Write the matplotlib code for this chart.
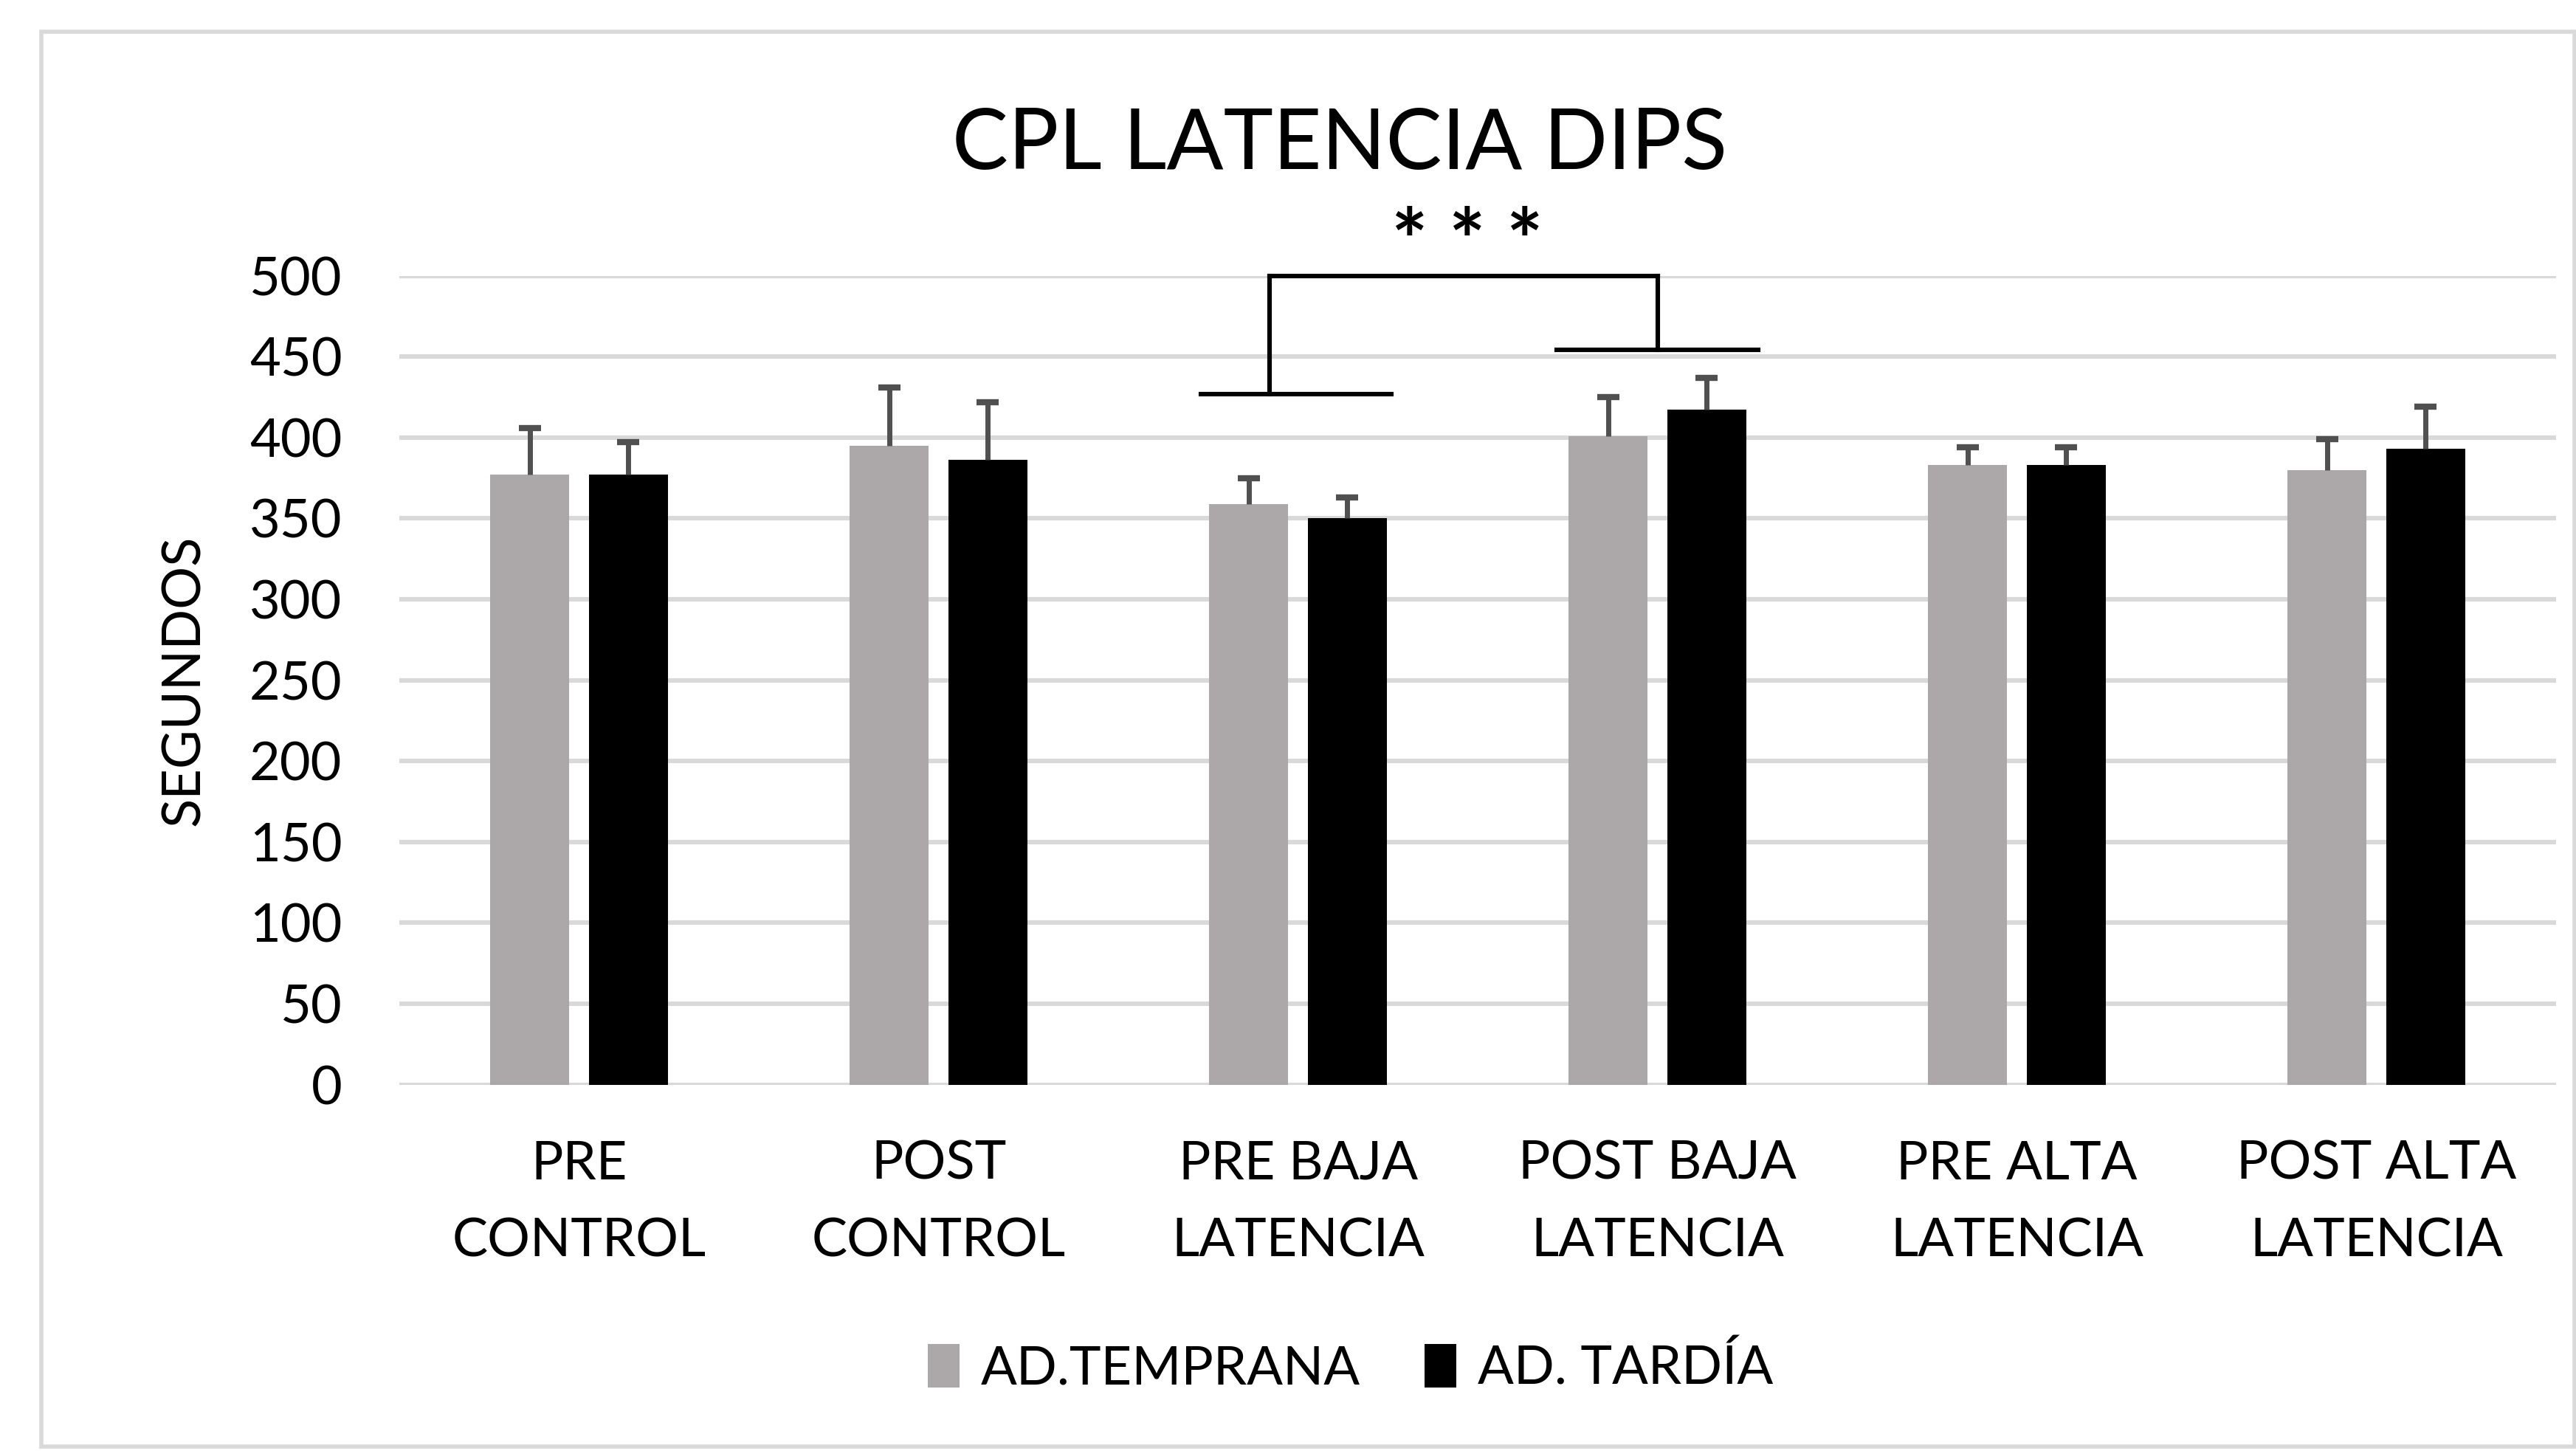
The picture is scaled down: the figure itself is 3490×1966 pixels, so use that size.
import matplotlib
matplotlib.use("Agg")
import matplotlib.pyplot as plt
import numpy as np
from matplotlib.patches import Rectangle

# data
categories = ["PRE\nCONTROL", "POST\nCONTROL", "PRE BAJA\nLATENCIA",
              "POST BAJA\nLATENCIA", "PRE ALTA\nLATENCIA", "POST ALTA\nLATENCIA"]
temprana = [377, 395, 359, 401, 383, 380]
temprana_err = [29, 36, 16, 24, 11, 19]
tardia = [377, 386, 350, 417, 383, 393]
tardia_err = [20, 36, 13, 20, 11, 26]
series_names = ["AD.TEMPRANA", "AD. TARDÍA"]

C_GRAY = "#ACA8A9"
C_BLACK = "#000000"
C_ERR = "#505050"

plt.rcParams["font.family"] = ["Lato", "DejaVu Sans"]

fig = plt.figure(figsize=(17.455, 9.83), dpi=200)
ax = fig.add_axes([0.155, 0.2525, 0.837, 0.5575])

# light frame around the chart
fig.patches.append(Rectangle((0.016, 0.003), 0.983, 0.975, transform=fig.transFigure,
                             fill=False, edgecolor="#d9d9d9", linewidth=2.0))

x = np.arange(len(categories))
off = 0.137
w = 0.22
ax.bar(x - off, temprana, w, color=C_GRAY, label=series_names[0], zorder=3)
ax.bar(x + off, tardia, w, color=C_BLACK, label=series_names[1], zorder=3)

# upper-only error bars
for xs, vals, errs in [(x - off, temprana, temprana_err), (x + off, tardia, tardia_err)]:
    _, caps, _ = ax.errorbar(xs, vals, yerr=[np.zeros(len(xs)), errs], fmt="none",
                             ecolor=C_ERR, elinewidth=2.5, capsize=5.5, capthick=3, zorder=4)
    caps[0].set_visible(False)

ax.set_xlim(-0.5, len(categories) - 0.5)
ax.set_ylim(0, 500)
ax.set_yticks(np.arange(0, 501, 50))
ax.set_xticks(x)
ax.set_xticklabels(categories, fontsize=26, linespacing=1.75)
ax.tick_params(axis="both", length=0, labelsize=26)
ax.tick_params(axis="x", pad=27)
ax.tick_params(axis="y", pad=28)
ax.grid(axis="y", color="#d9d9d9", linewidth=2.2, zorder=0)
for s in ax.spines.values():
    s.set_visible(False)
ax.set_ylabel("SEGUNDOS", fontsize=26, labelpad=20)

# significance bracket
lk = dict(color="black", linewidth=2.2, clip_on=False, zorder=4)
ax.plot([1.73, 2.26], [427, 427], **lk)
ax.plot([1.92, 1.92], [427, 500], **lk)
ax.plot([1.92, 3.0], [500, 500], **lk)
ax.plot([3.0, 3.0], [500, 454], **lk)
ax.plot([2.72, 3.28], [454, 454], **lk)
ax.text(2.47, 518, "* * *", ha="center", va="center", fontsize=42, fontweight="bold")

fig.text(0.52, 0.90, "CPL LATENCIA DIPS", ha="center", va="center", fontsize=41)

fig.legend(loc="center", bbox_to_anchor=(0.524, 0.057), ncol=2, frameon=False,
           fontsize=26, handlelength=0.6, handleheight=0.9, handletextpad=0.4,
           columnspacing=1.2)

fig.savefig("out.png", dpi=200, facecolor="white")
